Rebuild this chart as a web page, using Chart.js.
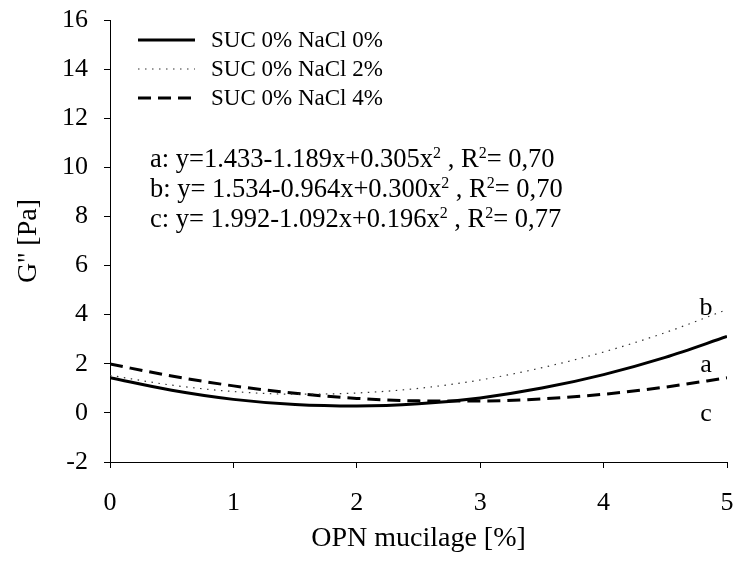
<!DOCTYPE html>
<html lang="en">
<head>
<meta charset="utf-8" />
<title>G'' vs OPN mucilage</title>
<script src="https://cdn.jsdelivr.net/npm/chart.js"></script>
<style>
  html, body { margin: 0; padding: 0; background: #fff; }
  #wrap { width: 735px; height: 562px; }
</style>
</head>
<body>
<div id="wrap"><canvas id="gChart" width="735" height="562"></canvas></div>
<script>
// mucilage concentration (x) and G'' readings for each salt level
const mucilage = [0, 0.5, 1, 1.5, 2, 2.5, 3, 3.5, 4, 4.5, 5];
const nacl0 = [1.43, 0.92, 0.55, 0.34, 0.28, 0.37, 0.61, 1.01, 1.56, 2.26, 3.11];
const nacl2 = [1.53, 1.13, 0.87, 0.76, 0.81, 1.00, 1.34, 1.84, 2.48, 3.27, 4.21];
const nacl4 = [1.99, 1.50, 1.10, 0.80, 0.59, 0.49, 0.48, 0.57, 0.76, 1.05, 1.43];

const seriesNames = ['SUC 0% NaCl 0%', 'SUC 0% NaCl 2%', 'SUC 0% NaCl 4%'];
const curveLetters = ['a', 'b', 'c'];
const xTicks = [0, 1, 2, 3, 4, 5];
const yTicks = [-2, 0, 2, 4, 6, 8, 10, 12, 14, 16];

// fitted equations, pieces marked true are superscripts
const equations = [
  [['a: y=1.433-1.189x+0.305x'], ['2', true], [' , R'], ['2', true], ['= 0,70']],
  [['b: y= 1.534-0.964x+0.300x'], ['2', true], [' , R'], ['2', true], ['= 0,70']],
  [['c: y= 1.992-1.092x+0.196x'], ['2', true], [' , R'], ['2', true], ['= 0,77']]
];

const serif = "'Liberation Serif', 'Times New Roman', serif";

function pts(ys) {
  return mucilage.map((x, i) => ({ x: x, y: ys[i] }));
}

const styles = [
  { borderColor: '#000', borderWidth: 3, borderDash: [] },
  { borderColor: '#333', borderWidth: 1.2, borderDash: [1.5, 5.5] },
  { borderColor: '#000', borderWidth: 3, borderDash: [13, 7] }
];

const datasets = [nacl0, nacl2, nacl4].map((ys, i) => Object.assign({
  label: seriesNames[i],
  data: pts(ys),
  pointRadius: 0,
  fill: false,
  cubicInterpolationMode: 'monotone'
}, styles[i]));

// legend, equations and curve letters drawn onto the canvas
const annotations = {
  id: 'annotations',
  afterDatasetsDraw(chart) {
    const ctx = chart.ctx;
    const xs = chart.scales.x, ys = chart.scales.y;
    ctx.save();
    ctx.fillStyle = '#000';

    // legend
    ctx.textBaseline = 'middle';
    chart.data.datasets.forEach((ds, i) => {
      const y = 40 + i * 29;
      ctx.save();
      ctx.strokeStyle = ds.borderColor;
      ctx.lineWidth = ds.borderWidth;
      ctx.setLineDash(ds.borderDash);
      ctx.beginPath();
      ctx.moveTo(138, y);
      ctx.lineTo(195, y);
      ctx.stroke();
      ctx.restore();
      ctx.font = '23px ' + serif;
      ctx.textAlign = 'left';
      ctx.fillText(ds.label, 211, y + 1);
    });

    // fitted equations
    ctx.textBaseline = 'alphabetic';
    equations.forEach((parts, i) => {
      let x = 150;
      const y = 167 + i * 30;
      parts.forEach(p => {
        const sup = p[1] === true;
        ctx.font = (sup ? '16px ' : '26.5px ') + serif;
        ctx.fillText(p[0], x, sup ? y - 9 : y);
        x += ctx.measureText(p[0]).width;
      });
    });

    // curve letters near the right end
    ctx.font = '26px ' + serif;
    ctx.textAlign = 'center';
    ctx.textBaseline = 'middle';
    const letterY = [1.95, 4.27, -0.05];
    curveLetters.forEach((l, i) => {
      ctx.fillText(l, xs.getPixelForValue(4.83), ys.getPixelForValue(letterY[i]));
    });
    ctx.restore();
  }
};

new Chart(document.getElementById('gChart'), {
  type: 'line',
  data: { datasets: datasets },
  options: {
    responsive: false,
    animation: false,
    layout: { padding: { left: 0, right: 8, top: 20, bottom: 0 } },
    plugins: { legend: { display: false }, tooltip: { enabled: false } },
    scales: {
      x: {
        type: 'linear',
        min: 0, max: 5,
        afterBuildTicks: s => { s.ticks = xTicks.map(v => ({ value: v })); },
        afterFit: s => { s.height = 100; s.paddingLeft = 0; s.paddingRight = 0; },
        grid: { drawOnChartArea: false, drawTicks: true, tickLength: 6, color: '#000' },
        border: { display: true, color: '#000', width: 1 },
        ticks: { color: '#000', padding: 20, font: { family: serif, size: 26 } },
        title: { display: true, text: 'OPN mucilage [%]', color: '#000', padding: { top: 4, bottom: 7 },
                 font: { family: serif, size: 28 } }
      },
      y: {
        type: 'linear',
        min: -2, max: 16,
        afterBuildTicks: s => { s.ticks = yTicks.map(v => ({ value: v })); },
        afterFit: s => { s.width = 110; s.paddingTop = 0; s.paddingBottom = 0; },
        grid: { drawOnChartArea: false, drawTicks: true, tickLength: 6, color: '#000' },
        border: { display: true, color: '#000', width: 1 },
        ticks: { color: '#000', padding: 16, font: { family: serif, size: 26 } },
        title: { display: true, text: "G'' [Pa]", color: '#000', padding: { top: 12 },
                 font: { family: serif, size: 28 } }
      }
    }
  },
  plugins: [annotations]
});
</script>
</body>
</html>
